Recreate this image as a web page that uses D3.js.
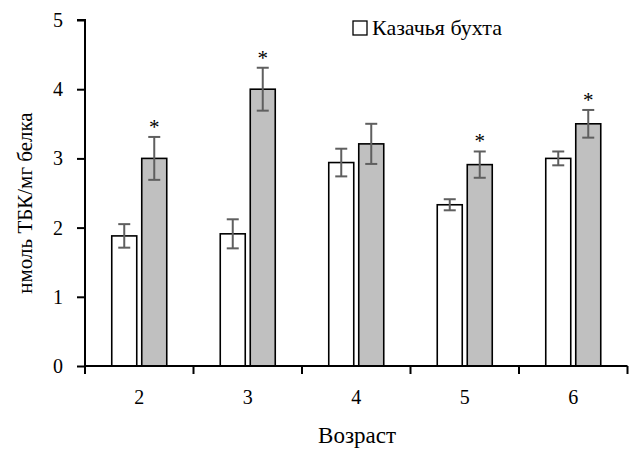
<!DOCTYPE html>
<html><head><meta charset="utf-8">
<style>body{margin:0;background:#fff;font-family:"Liberation Serif",serif}svg{display:block}#fp{position:absolute;left:-9999px;top:-9999px;font-family:"Liberation Serif";font-size:20px}</style>
</head><body><div id="fp" aria-hidden="true">Казачья бухта Возраст нмоль ТБК/мг белка 0123456789*</div>
<svg id="c" width="631" height="450" font-family="Liberation Serif"></svg>
<script src="https://cdn.jsdelivr.net/npm/d3@7"></script>
<script>
const categories = ["2","3","4","5","6"];
const seriesNames = ["Казачья бухта", "second"];
const whiteValues = [1.88, 1.91, 2.94, 2.33, 3.00];
const whiteErrors = [0.17, 0.21, 0.20, 0.08, 0.10];
const grayValues = [3.00, 4.00, 3.21, 2.91, 3.50];
const grayErrors = [0.31, 0.31, 0.29, 0.19, 0.20];
const significant = [true, true, false, true, true];
const yTicks = [0,1,2,3,4,5];

const FONT = "Liberation Serif";
const svg = d3.select("#c");
const m = {left:85};
const x = d3.scaleBand().domain(categories).range([m.left, 627.5]).paddingInner(0).paddingOuter(0);
const y = d3.scaleLinear().domain([0,5]).range([366, 20]);
const barW = 25, gap = 5;

const groups = categories.map((c,i)=>({c,i}));
const series = [
  {vals: whiteValues, errs: whiteErrors, fill:"#ffffff", off: -gap/2 - barW},
  {vals: grayValues, errs: grayErrors, fill:"#c0c0c0", off: gap/2}
];
series.forEach(s=>{
  svg.append("g").selectAll("rect").data(groups).join("rect")
    .attr("x", d=>x(d.c)+x.bandwidth()/2 + s.off)
    .attr("y", d=>y(s.vals[d.i]))
    .attr("width", barW)
    .attr("height", d=>y(0)-y(s.vals[d.i]))
    .attr("fill", s.fill).attr("stroke","#000").attr("stroke-width",1.6);
});
series.forEach(s=>{
  const g = svg.append("g").attr("stroke","#5f5f5f").attr("stroke-width",2);
  groups.forEach(d=>{
    const cx = x(d.c)+x.bandwidth()/2 + s.off + barW/2;
    const v = s.vals[d.i], e = s.errs[d.i];
    g.append("line").attr("x1",cx).attr("x2",cx).attr("y1",y(v+e)).attr("y2",y(v-e));
    g.append("line").attr("x1",cx-6).attr("x2",cx+6).attr("y1",y(v+e)).attr("y2",y(v+e));
    g.append("line").attr("x1",cx-6).attr("x2",cx+6).attr("y1",y(v-e)).attr("y2",y(v-e));
  });
});
svg.append("g").selectAll("text").data(groups.filter(d=>significant[d.i])).join("text")
  .attr("x", d=>x(d.c)+x.bandwidth()/2 + gap/2 + barW/2)
  .attr("y", d=>y(grayValues[d.i]+grayErrors[d.i]) - 3)
  .attr("text-anchor","middle").attr("font-size",21).attr("font-family",FONT).text("*");

const yAxis = d3.axisLeft(y).tickValues(yTicks).tickSize(8).tickPadding(14).tickFormat(d3.format("d"));
const ya = svg.append("g").attr("transform",`translate(${m.left},0)`).call(yAxis).attr("font-family",FONT);
ya.select(".domain").attr("stroke","#000").attr("stroke-width",2).attr("d",`M-8,${y(5)}H0V${y(0)}`);
ya.selectAll(".tick line").attr("stroke","#000").attr("stroke-width",2);
ya.selectAll(".tick text").attr("font-size",20).attr("font-family",FONT).attr("fill","#000");

const xAxis = d3.axisBottom(x).tickSize(0).tickPadding(24);
const xa = svg.append("g").attr("transform",`translate(0,${y(0)})`).call(xAxis).attr("font-family",FONT);
xa.select(".domain").attr("stroke","#000").attr("stroke-width",2).attr("d",`M${m.left},0H627.5`);
xa.selectAll(".tick text").attr("font-size",20).attr("font-family",FONT).attr("fill","#000");
const bounds = categories.map(c=>x(c)).concat([x(categories[categories.length-1])+x.bandwidth()]);
xa.append("g").selectAll("line").data(bounds).join("line")
  .attr("x1",d=>d).attr("x2",d=>d).attr("y1",0).attr("y2",8)
  .attr("stroke","#000").attr("stroke-width",2);

svg.append("text").attr("x",357).attr("y",443).attr("text-anchor","middle").attr("font-size",23).attr("font-family",FONT).text("Возраст");
svg.append("text").attr("transform","translate(32,203) rotate(-90)").attr("text-anchor","middle").attr("font-size",21).attr("font-family",FONT).text("нмоль ТБК/мг белка");

const lg = svg.append("g");
lg.append("rect").attr("x",353).attr("y",21).attr("width",14).attr("height",14).attr("fill","#fff").attr("stroke","#000").attr("stroke-width",1.3);
lg.append("text").attr("x",372).attr("y",35).attr("font-size",22).attr("font-family",FONT).text(seriesNames[0]);
</script></body></html>
